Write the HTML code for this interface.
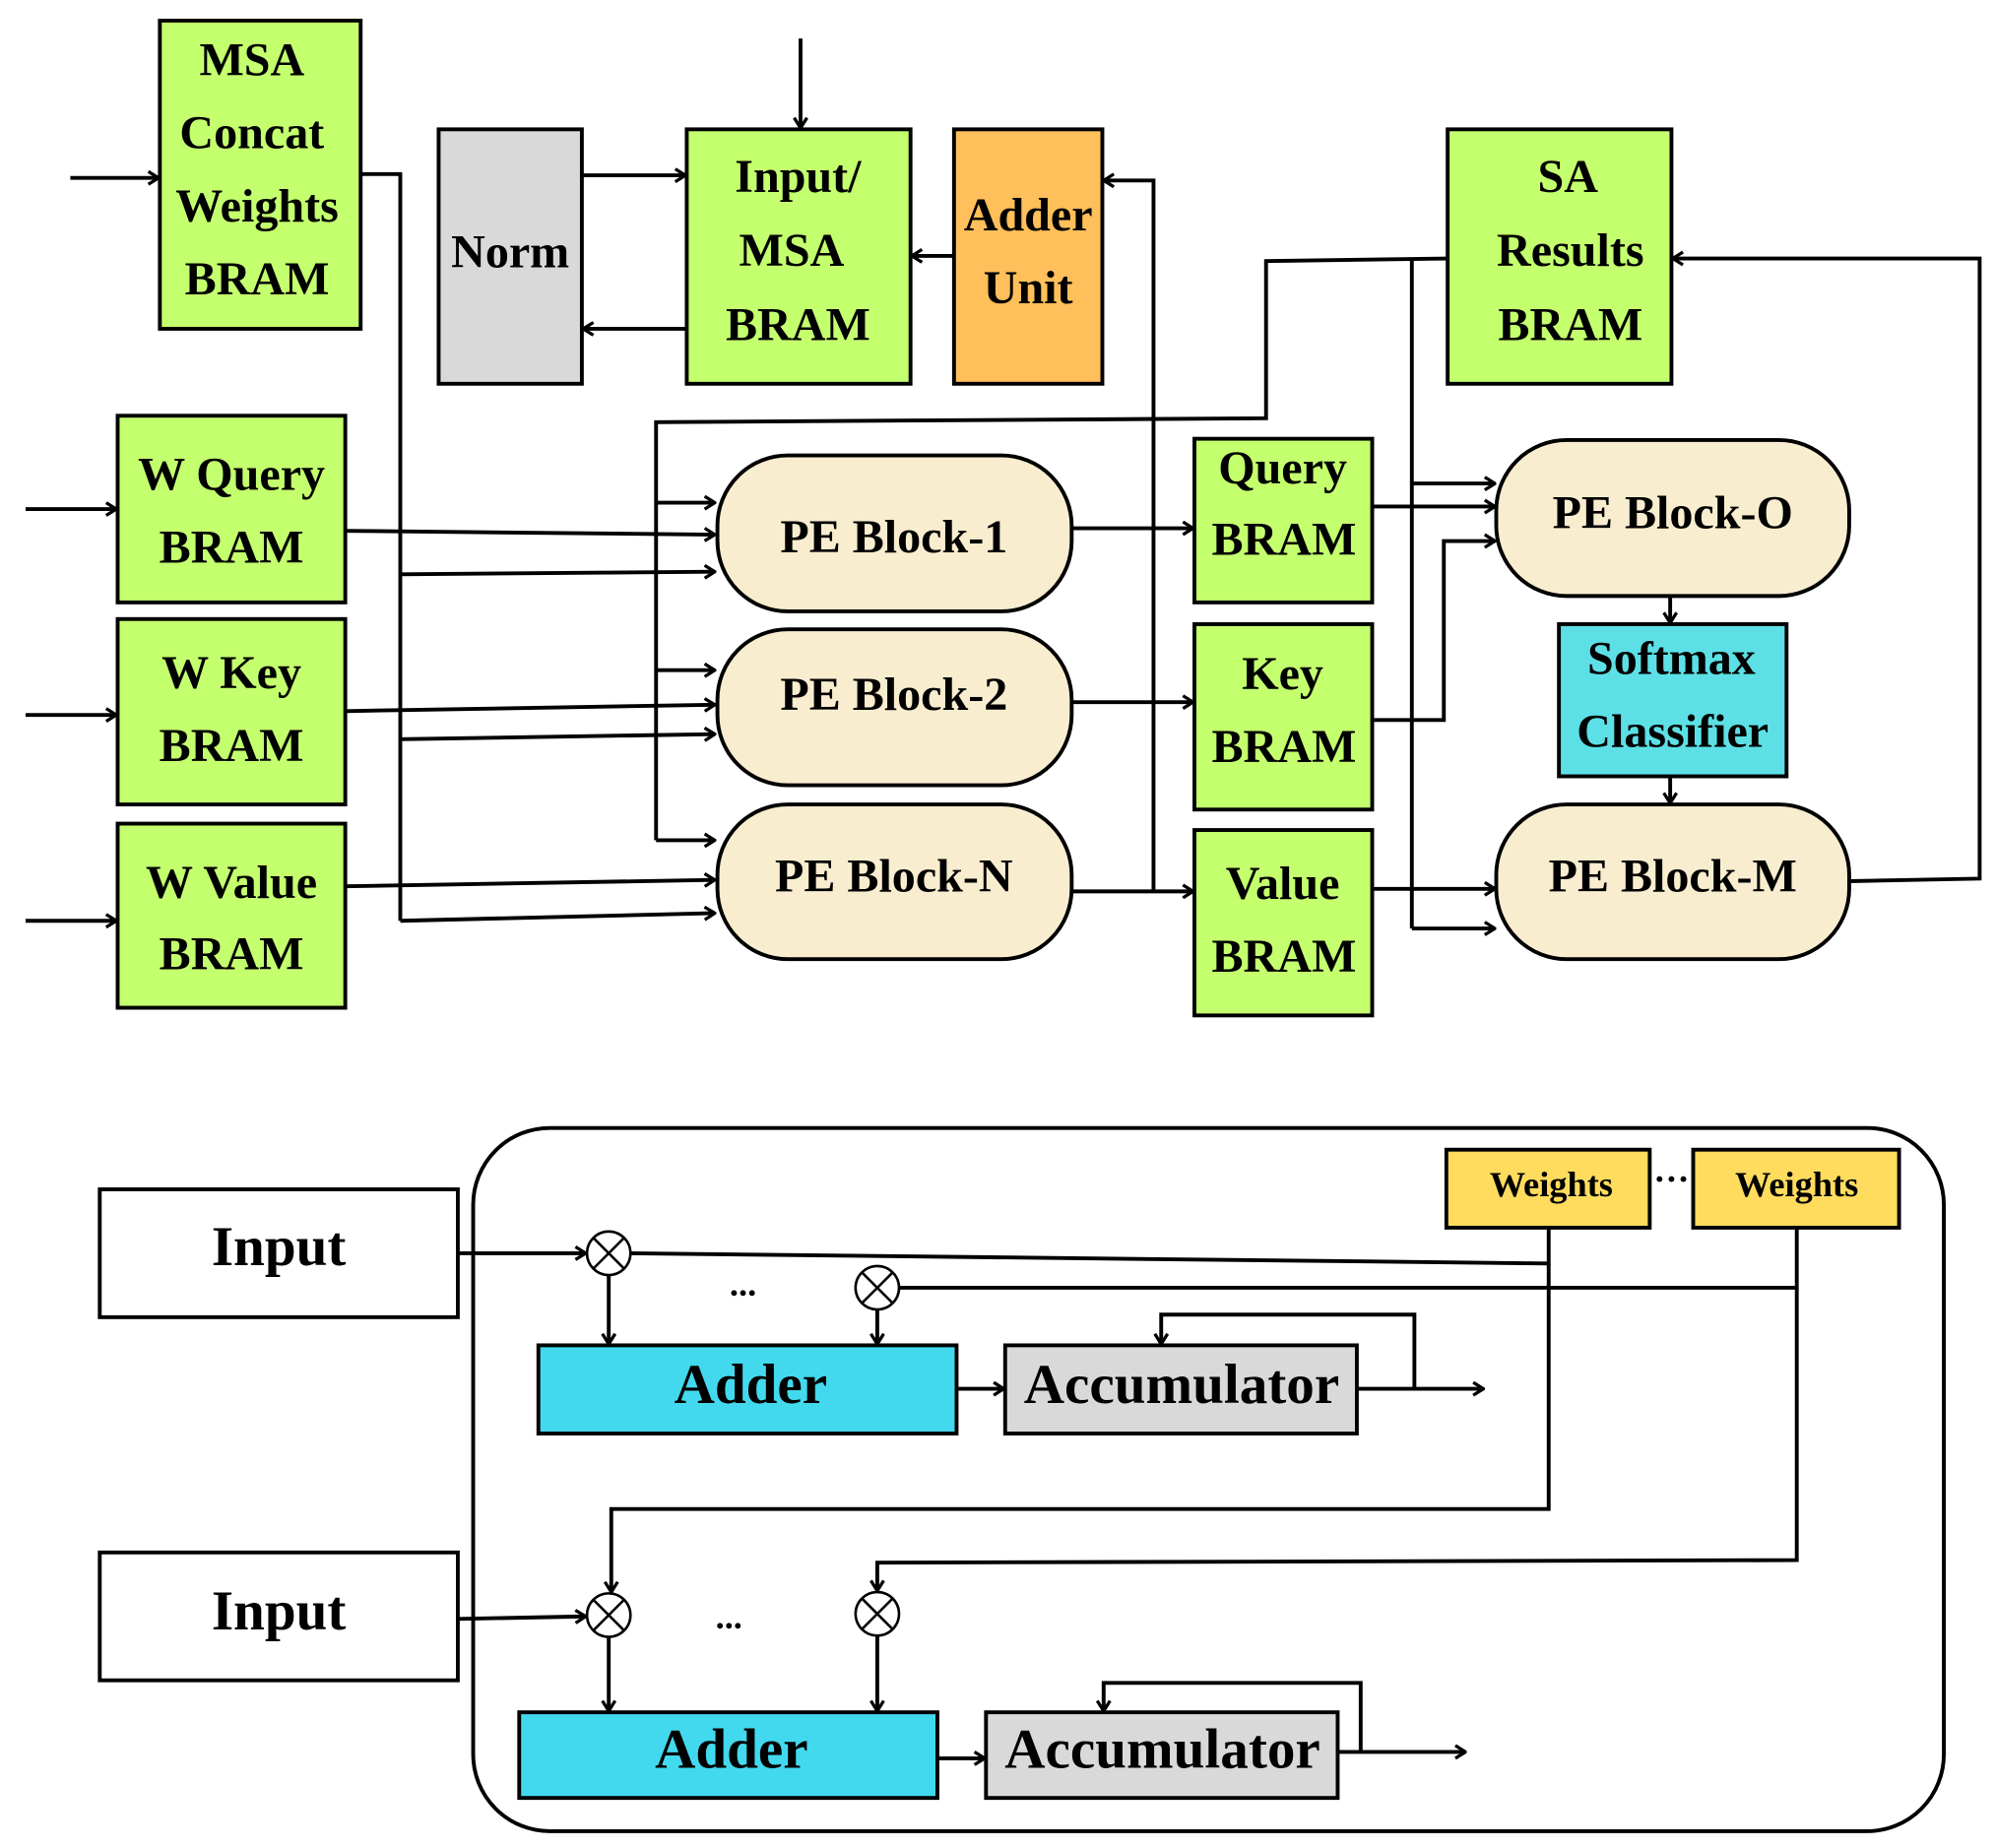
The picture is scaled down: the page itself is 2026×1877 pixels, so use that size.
<!DOCTYPE html>
<html><head><meta charset="utf-8"><style>
html,body{margin:0;padding:0;background:#fff;}
svg{display:block}
text{font-family:"Liberation Serif",serif;font-weight:bold;text-anchor:middle;dominant-baseline:central;fill:#000}
</style></head><body>
<svg width="2026" height="1877" viewBox="0 0 1560 1445" xmlns="http://www.w3.org/2000/svg">
<defs>
<marker id="a" viewBox="0 0 12 12" refX="11" refY="6" markerWidth="12" markerHeight="12" markerUnits="userSpaceOnUse" orient="auto">
<path d="M3,1 L11,6 L3,11" fill="none" stroke="#000" stroke-width="2.5"/>
</marker>
</defs>
<g stroke="#000" stroke-width="3" fill="none">
<!-- top boxes -->
<rect x="125" y="16" width="157" height="241" fill="#c4ff6e"/>
<rect x="343" y="101" width="112" height="199" fill="#d9d9d9"/>
<rect x="537" y="101" width="175" height="199" fill="#c4ff6e"/>
<rect x="746" y="101" width="116" height="199" fill="#ffbf5a"/>
<rect x="1132" y="101" width="175" height="199" fill="#c4ff6e"/>
<rect x="92" y="325" width="178" height="146" fill="#c4ff6e"/>
<rect x="92" y="484" width="178" height="145" fill="#c4ff6e"/>
<rect x="92" y="644" width="178" height="144" fill="#c4ff6e"/>
<rect x="561" y="356" width="277" height="122" rx="55" fill="#f8edcf"/>
<rect x="561" y="492" width="277" height="122" rx="55" fill="#f8edcf"/>
<rect x="561" y="629" width="277" height="121" rx="55" fill="#f8edcf"/>
<rect x="934" y="343" width="139" height="128" fill="#c4ff6e"/>
<rect x="934" y="488" width="139" height="145" fill="#c4ff6e"/>
<rect x="934" y="649" width="139" height="145" fill="#c4ff6e"/>
<rect x="1170" y="344" width="276" height="122" rx="55" fill="#f8edcf"/>
<rect x="1219" y="488" width="178" height="119" fill="#5ce0e6"/>
<rect x="1170" y="629" width="276" height="121" rx="55" fill="#f8edcf"/>
<!-- top connectors -->
<line x1="55" y1="139" x2="124" y2="139" marker-end="url(#a)"/>
<polyline points="282,136 313,136 313,720"/>
<line x1="313" y1="449" x2="559" y2="447" marker-end="url(#a)"/>
<line x1="313" y1="578" x2="559" y2="574" marker-end="url(#a)"/>
<line x1="313" y1="720" x2="559" y2="714" marker-end="url(#a)"/>
<line x1="455" y1="137" x2="536" y2="137" marker-end="url(#a)"/>
<line x1="537" y1="257" x2="456" y2="257" marker-end="url(#a)"/>
<line x1="626" y1="30" x2="626" y2="100" marker-end="url(#a)"/>
<line x1="746" y1="200" x2="713" y2="200" marker-end="url(#a)"/>
<polyline points="902,697 902,141 863,141" marker-end="url(#a)"/>
<polyline points="1132,202 990,204 990,327 513,330 513,657"/>
<line x1="513" y1="393" x2="559" y2="393" marker-end="url(#a)"/>
<line x1="513" y1="524" x2="559" y2="524" marker-end="url(#a)"/>
<line x1="513" y1="657" x2="559" y2="657" marker-end="url(#a)"/>
<polyline points="1104,202 1104,726"/>
<line x1="1104" y1="378" x2="1169" y2="378" marker-end="url(#a)"/>
<line x1="1104" y1="726" x2="1169" y2="726" marker-end="url(#a)"/>
<line x1="20" y1="398" x2="91" y2="398" marker-end="url(#a)"/>
<line x1="20" y1="559" x2="91" y2="559" marker-end="url(#a)"/>
<line x1="20" y1="720" x2="91" y2="720" marker-end="url(#a)"/>
<line x1="270" y1="415" x2="559" y2="418" marker-end="url(#a)"/>
<line x1="270" y1="556" x2="559" y2="551" marker-end="url(#a)"/>
<line x1="270" y1="693" x2="559" y2="688" marker-end="url(#a)"/>
<line x1="838" y1="413" x2="933" y2="413" marker-end="url(#a)"/>
<line x1="838" y1="549" x2="933" y2="549" marker-end="url(#a)"/>
<line x1="838" y1="697" x2="933" y2="697" marker-end="url(#a)"/>
<line x1="1073" y1="396" x2="1169" y2="396" marker-end="url(#a)"/>
<polyline points="1073,563 1129,563 1129,423 1169,423" marker-end="url(#a)"/>
<line x1="1073" y1="695" x2="1169" y2="695" marker-end="url(#a)"/>
<line x1="1306" y1="466" x2="1306" y2="487" marker-end="url(#a)"/>
<line x1="1306" y1="607" x2="1306" y2="628" marker-end="url(#a)"/>
<polyline points="1446,689 1548,687 1548,202 1308,202" marker-end="url(#a)"/>
<!-- bottom -->
<rect x="370" y="882" width="1150" height="550" rx="60"/>
<rect x="78" y="930" width="280" height="100" fill="#fff"/>
<rect x="78" y="1214" width="280" height="100" fill="#fff"/>
<rect x="1131" y="899" width="159" height="61" fill="#ffdc5e"/>
<rect x="1324" y="899" width="161" height="61" fill="#ffdc5e"/>
<rect x="421" y="1052" width="327" height="69" fill="#42d9ee"/>
<rect x="786" y="1052" width="275" height="69" fill="#d9d9d9"/>
<rect x="406" y="1339" width="327" height="67" fill="#42d9ee"/>
<rect x="771" y="1339" width="275" height="67" fill="#d9d9d9"/>
<line x1="358" y1="980" x2="458" y2="980" marker-end="url(#a)"/>
<line x1="358" y1="1266" x2="458" y2="1264" marker-end="url(#a)"/>
<polyline points="493,980 1211,988"/>
<line x1="703" y1="1007" x2="1405" y2="1007"/>
<polyline points="1211,960 1211,1180 478,1180 478,1245" marker-end="url(#a)"/>
<polyline points="1405,960 1405,1220 686,1222 686,1244" marker-end="url(#a)"/>
<line x1="476" y1="997" x2="476" y2="1051" marker-end="url(#a)"/>
<line x1="686" y1="1024" x2="686" y2="1051" marker-end="url(#a)"/>
<line x1="748" y1="1086" x2="785" y2="1086" marker-end="url(#a)"/>
<line x1="1061" y1="1086" x2="1160" y2="1086" marker-end="url(#a)"/>
<polyline points="1106,1086 1106,1028 908,1028 908,1051" marker-end="url(#a)"/>
<line x1="476" y1="1280" x2="476" y2="1338" marker-end="url(#a)"/>
<line x1="686" y1="1279" x2="686" y2="1338" marker-end="url(#a)"/>
<line x1="733" y1="1375" x2="770" y2="1375" marker-end="url(#a)"/>
<line x1="1046" y1="1370" x2="1146" y2="1370" marker-end="url(#a)"/>
<polyline points="1064,1370 1064,1316 863,1316 863,1338" marker-end="url(#a)"/>
</g>
<g stroke="#000" stroke-width="2" fill="#fff">
<circle cx="476" cy="980" r="17"/><path d="M464,968 L488,992 M488,968 L464,992"/>
<circle cx="686" cy="1007" r="17"/><path d="M674,995 L698,1019 M698,995 L674,1019"/>
<circle cx="476" cy="1263" r="17"/><path d="M464,1251 L488,1275 M488,1251 L464,1275"/>
<circle cx="686" cy="1262" r="17"/><path d="M674,1250 L698,1274 M698,1250 L674,1274"/>
</g>
<g font-size="37">
<text x="197" y="47">MSA</text><text x="197" y="104">Concat</text><text x="201" y="161">Weights</text><text x="201" y="218">BRAM</text>
<text x="399" y="197">Norm</text>
<text x="624" y="138">Input/</text><text x="619" y="196">MSA</text><text x="624" y="254">BRAM</text>
<text x="804" y="168">Adder</text><text x="804" y="225">Unit</text>
<text x="1226" y="138">SA</text><text x="1228" y="196">Results</text><text x="1228" y="254">BRAM</text>
<text x="181" y="371">W Query</text><text x="181" y="428">BRAM</text>
<text x="181" y="526">W Key</text><text x="181" y="583">BRAM</text>
<text x="181" y="690">W Value</text><text x="181" y="746">BRAM</text>
<text x="699" y="420">PE Block-1</text>
<text x="699" y="543">PE Block-2</text>
<text x="699" y="685">PE Block-N</text>
<text x="1003" y="366">Query</text><text x="1004" y="422">BRAM</text>
<text x="1003" y="527">Key</text><text x="1004" y="584">BRAM</text>
<text x="1003" y="691">Value</text><text x="1004" y="748">BRAM</text>
<text x="1308" y="401">PE Block-O</text>
<text x="1307" y="515">Softmax</text><text x="1308" y="572">Classifier</text>
<text x="1308" y="685">PE Block-M</text>
</g>
<g font-size="44">
<text x="218" y="975">Input</text><text x="218" y="1260">Input</text>
<text x="587" y="1083">Adder</text><text x="924" y="1083">Accumulator</text>
<text x="572" y="1368">Adder</text><text x="909" y="1368">Accumulator</text>
</g>
<g font-size="28">
<text x="1213" y="926">Weights</text><text x="1405" y="926">Weights</text>
<text x="1307" y="922">···</text>
<text x="581" y="1004">...</text><text x="570" y="1264">...</text>
</g>
</svg>
</body></html>
